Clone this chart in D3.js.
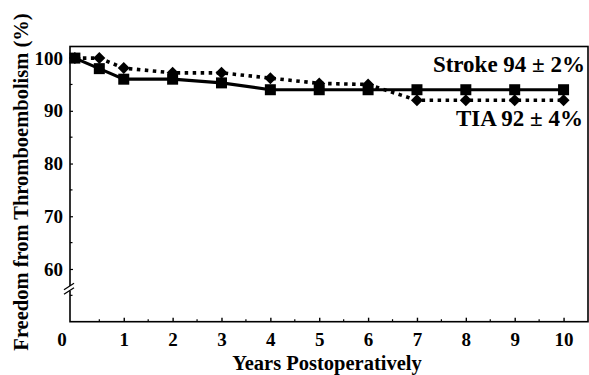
<!DOCTYPE html>
<html>
<head>
<meta charset="utf-8">
<script src="https://cdn.jsdelivr.net/npm/d3@7"></script>
<style>
  html, body { margin: 0; padding: 0; background: #fff; }
  svg { display: block; }
  text { font-family: "Liberation Serif", "DejaVu Serif", serif; font-weight: bold; fill: #000; }
</style>
</head>
<body>
<svg id="chart" width="589" height="375"></svg>
<script>
// ---- data ----
const years = [0, 0.5, 1, 2, 3, 4, 5, 6, 7, 8, 9, 10];
const strokeValues = [100, 98, 96, 96, 95.3, 94, 94, 94, 94, 94, 94, 94];
const tiaValues = [100, 100, 98.1, 97.2, 97.2, 96.2, 95.2, 95, 92, 92, 92, 92];
const xTickValues = [1, 2, 3, 4, 5, 6, 7, 8, 9, 10];
const xMinorTicks = [0.5, 1.5, 2.5, 3.5, 4.5, 5.5, 6.5, 7.5, 8.5, 9.5];
const yTickValues = [60, 70, 80, 90, 100];
const yMinorTicks = [55, 65, 75, 85, 95];
const originLabel = "0";
const strokeLabel = "Stroke 94 \u00b1 2%";
const tiaLabel = "TIA 92 \u00b1 4%";
const xTitle = "Years Postoperatively";
const yTitle = "Freedom from Thromboembolism (%)";
const axisBreakValue = 56.3;

// ---- layout ----
const L = 70, R = 588, T = 46.5, B = 321.7;
const svg = d3.select("#chart");
const x = d3.scaleLinear().domain([-0.1, 10.5]).range([L, R]);
const y = d3.scaleLinear().domain([50, 102.2]).range([B, T]);

// frame
svg.append("rect").attr("x", L).attr("y", T).attr("width", R - L).attr("height", B - T)
  .attr("fill", "none").attr("stroke", "#000").attr("stroke-width", 1.6);

// x axis
const xAxis = svg.append("g").attr("transform", `translate(0,${B})`)
  .call(d3.axisBottom(x).tickValues(xTickValues).tickSize(-4).tickPadding(11).tickFormat(d3.format("d")));
xAxis.select(".domain").remove();
xAxis.selectAll("line").attr("stroke", "#000").attr("stroke-width", 1.4);
xAxis.selectAll("text").attr("font-size", 19).attr("font-family", "Liberation Serif").attr("font-weight", "bold");
svg.append("g").selectAll("line").data(xMinorTicks).join("line")
  .attr("x1", d => x(d)).attr("x2", d => x(d)).attr("y1", B).attr("y2", B - 2.5)
  .attr("stroke", "#000").attr("stroke-width", 1.2);

// y axis
const yAxis = svg.append("g").attr("transform", `translate(${L},0)`)
  .call(d3.axisLeft(y).tickValues(yTickValues).tickSize(-3).tickPadding(7).tickFormat(d3.format("d")));
yAxis.select(".domain").remove();
yAxis.selectAll("line").attr("stroke", "#000").attr("stroke-width", 1.2);
yAxis.selectAll("text").attr("font-size", 19).attr("font-family", "Liberation Serif").attr("font-weight", "bold");
svg.append("g").selectAll("line").data(yMinorTicks).join("line")
  .attr("x1", L).attr("x2", L + 2.5).attr("y1", d => y(d)).attr("y2", d => y(d))
  .attr("stroke", "#000").attr("stroke-width", 1.2);

// origin label
svg.append("text").attr("x", 62).attr("y", 346).attr("text-anchor", "middle")
  .attr("font-size", 19).text(originLabel);

// axis break
const yb = y(axisBreakValue);
svg.append("rect").attr("x", L - 3).attr("y", yb - 2.5).attr("width", 6).attr("height", 5).attr("fill", "#fff");
[-2.2, 2.2].forEach(o => {
  svg.append("line").attr("x1", L - 6).attr("y1", yb + o + 3.5).attr("x2", L + 4).attr("y2", yb + o - 3)
    .attr("stroke", "#000").attr("stroke-width", 1.3);
});

// lines
const line = d3.line().x((d, i) => x(years[i])).y(d => y(d));
svg.append("path").datum(tiaValues).attr("d", line).attr("fill", "none")
  .attr("stroke", "#000").attr("stroke-width", 3.6).attr("stroke-dasharray", "3.5,4.5");
svg.append("path").datum(strokeValues).attr("d", line).attr("fill", "none")
  .attr("stroke", "#000").attr("stroke-width", 3.2);

// markers
svg.append("g").selectAll("path").data(tiaValues).join("path")
  .attr("transform", (d, i) => `translate(${x(years[i])},${y(d)})`)
  .attr("d", "M0,-6 L6,0 L0,6 L-6,0 Z").attr("fill", "#000");
svg.append("g").selectAll("rect").data(strokeValues).join("rect")
  .attr("x", (d, i) => x(years[i]) - 5.5).attr("y", d => y(d) - 5.5)
  .attr("width", 11).attr("height", 11).attr("fill", "#000");

// annotations
svg.append("text").attr("x", 585).attr("y", 72).attr("text-anchor", "end")
  .attr("font-size", 23).text(strokeLabel);
svg.append("text").attr("x", 583).attr("y", 126).attr("text-anchor", "end")
  .attr("font-size", 23).text(tiaLabel);

// titles
svg.append("text").attr("x", 327).attr("y", 370).attr("text-anchor", "middle")
  .attr("font-size", 20.5).text(xTitle);
svg.append("text").attr("transform", "translate(27.5,182) rotate(-90)").attr("text-anchor", "middle")
  .attr("font-size", 20.5).text(yTitle);
</script>
</body>
</html>
